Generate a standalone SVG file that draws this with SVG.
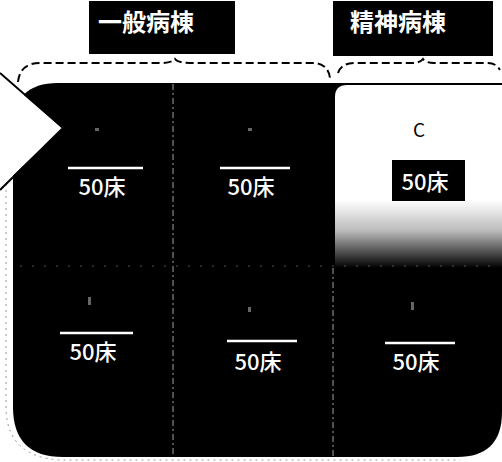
<svg xmlns="http://www.w3.org/2000/svg" width="502" height="462" viewBox="0 0 502 462">
<style>
.hd{font-family:"Noto Sans CJK JP","Noto Sans",sans-serif;font-size:24px;font-weight:bold;fill:#fff;}
.bd{font-family:"Noto Sans CJK JP","Noto Sans",sans-serif;font-size:22px;font-weight:500;fill:#fff;text-anchor:middle;}
.ul{stroke:#fff;stroke-width:2.5;}
.brace{fill:none;stroke:#000;stroke-width:2;stroke-dasharray:8 4;}
.div{stroke:#888;stroke-width:1.2;stroke-dasharray:6 3 2 3;}
.mk{fill:#666;}
</style>
<defs>
<linearGradient id="fade" x1="0" y1="0" x2="0" y2="1">
<stop offset="0" stop-color="#fff"/>
<stop offset="0.45" stop-color="#bbb"/>
<stop offset="1" stop-color="#000"/>
</linearGradient>
</defs>
<rect width="502" height="462" fill="#fff"/>
<g id="building">
<path d="M58,83 H502 V412 Q502,457 457,457 H63 Q13,457 13,407 V128 Q13,83 58,83 Z" fill="#000"/>
<path d="M6,130 V410 Q8,457 60,460 H460" fill="none" stroke="#999" stroke-width="1" stroke-dasharray="2 4"/>
</g>
<g id="psych-panel">
<path d="M347,85 H502 V200 H335 V97 Q335,85 347,85 Z" fill="#fff"/>
<rect x="335" y="200" width="167" height="68" fill="url(#fade)"/>
</g>
<g id="connectors">
<path class="brace" d="M18,82 Q20,63 40,63 H160 Q172,63 175,59 Q178,63 190,63 H312 Q328,63 330,78"/>
<path class="brace" d="M338,73 Q341,63 355,63 H412 Q420,63 423,59 Q426,63 434,63 H488 Q496,63 500,70"/>
<line class="div" x1="173" y1="84" x2="173" y2="457"/>
<line class="div" x1="333" y1="268" x2="333" y2="457"/>
<line x1="20" y1="266" x2="500" y2="266" stroke="#555" stroke-width="1" stroke-dasharray="2 10"/>
</g>
<g id="arrow">
<polygon points="-2,73 63,128 -2,190" fill="#fff"/>
<polyline points="0,73 63,128 0,190" fill="none" stroke="#000" stroke-width="2"/>
</g>
<g id="label-general">
<rect x="89" y="1" width="146" height="53" fill="#000"/>
<text class="hd" x="98" y="31">一般病棟</text>
</g>
<g id="label-psych">
<rect x="333" y="1" width="160" height="55" fill="#000"/>
<text class="hd" x="350" y="31">精神病棟</text>
</g>
<g id="cell-a1">
<rect class="mk" x="95" y="128" width="4" height="3"/>
<line class="ul" x1="68" y1="168" x2="143" y2="168"/>
<text class="bd" x="102" y="195">50床</text>
</g>
<g id="cell-b1">
<rect class="mk" x="248" y="128" width="4" height="3"/>
<line class="ul" x1="220" y1="168" x2="290" y2="168"/>
<text class="bd" x="251" y="195">50床</text>
</g>
<g id="cell-c1">
<text x="419" y="137" font-family="Noto Sans CJK JP,Noto Sans,sans-serif" font-size="19" fill="#000" text-anchor="middle">C</text>
<rect x="392" y="160" width="73" height="41" fill="#000"/>
<text class="bd" x="425" y="190">50床</text>
</g>
<g id="cell-a2">
<rect class="mk" x="88" y="297" width="3" height="8"/>
<line class="ul" x1="60" y1="333" x2="133" y2="333"/>
<text class="bd" x="93" y="360">50床</text>
</g>
<g id="cell-b2">
<rect class="mk" x="248" y="307" width="3" height="5"/>
<line class="ul" x1="227" y1="341" x2="297" y2="341"/>
<text class="bd" x="258" y="370">50床</text>
</g>
<g id="cell-c2">
<rect class="mk" x="411" y="302" width="3" height="8"/>
<line class="ul" x1="385" y1="343" x2="455" y2="343"/>
<text class="bd" x="416" y="370">50床</text>
</g>
</svg>
